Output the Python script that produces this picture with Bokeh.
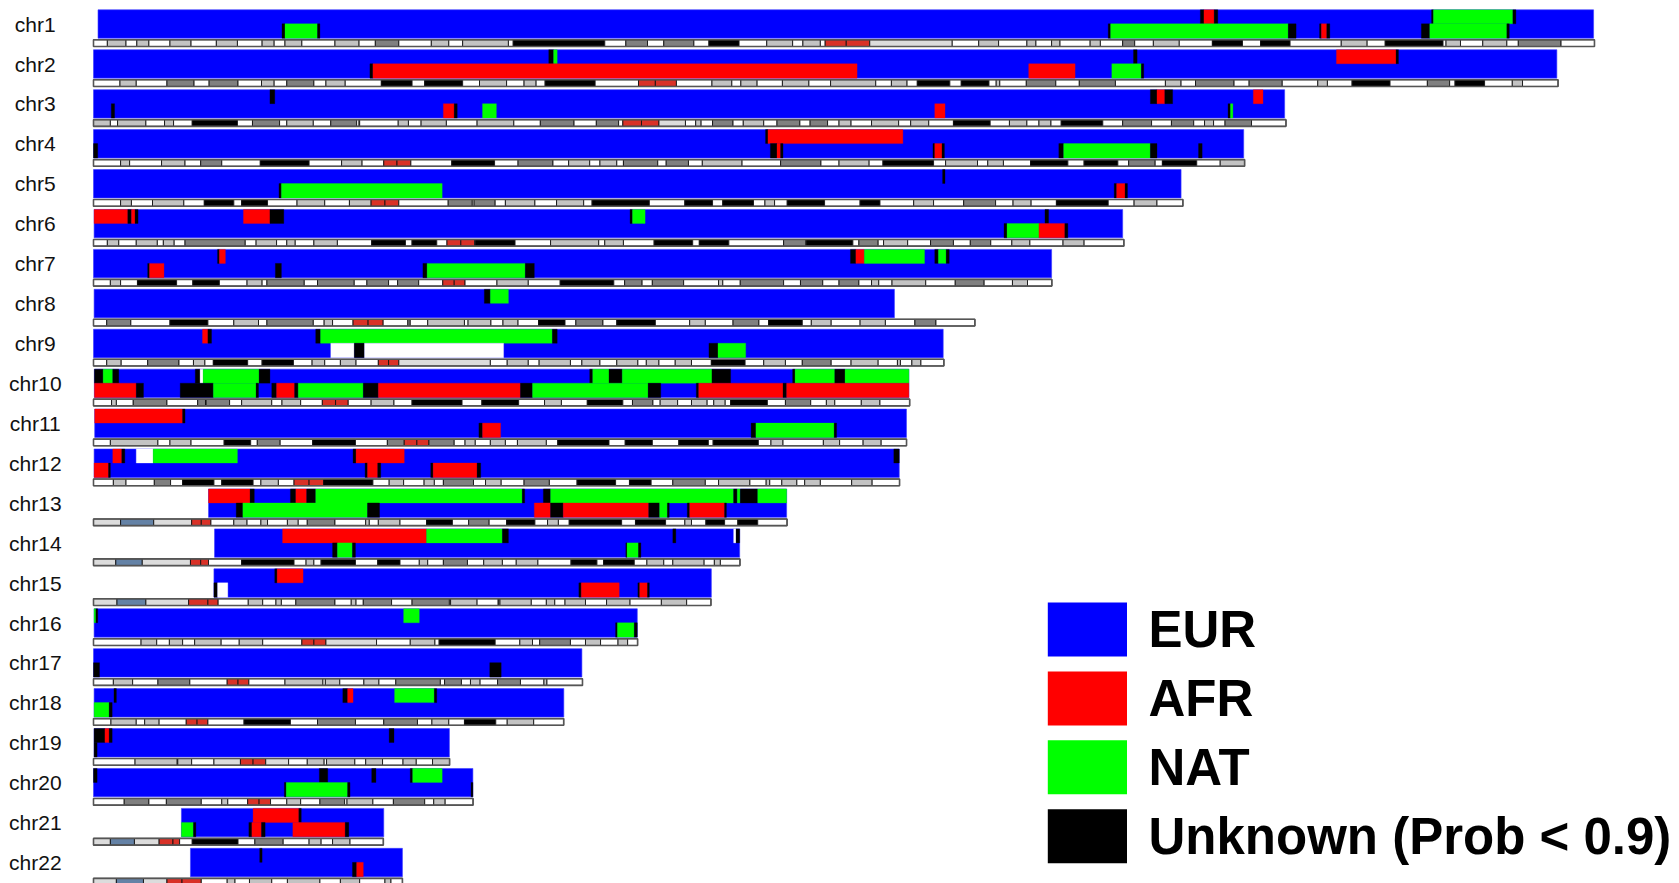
from bokeh.plotting import figure
from bokeh.models import Range1d, ColumnDataSource
from bokeh.embed import file_html
from bokeh.resources import INLINE
from bokeh.core.properties import value

# ---------------------------------------------------------------- data
CHROMS = ["chr1", "chr2", "chr3", "chr4", "chr5", "chr6", "chr7", "chr8", "chr9", "chr10", "chr11",
          "chr12", "chr13", "chr14", "chr15", "chr16", "chr17", "chr18", "chr19", "chr20", "chr21", "chr22"]

# painted extent of the two haplotypes (Mb)
HAP_START_MB = [0.75, 0.0, 0.0, 0.0, 0.0, 0.1, 0.0, 0.1, 0.0, 0.15, 0.2,
                0.1, 19.1, 20.1, 20.0, 0.1, 0.0, 0.1, 0.1, 0.0, 14.6, 16.1]
HAP_END_MB = [249.1, 243.0, 197.8, 191.0, 180.6, 170.9, 159.1, 133.0, 141.1, 135.4, 135.0,
              133.8, 115.1, 107.3, 102.6, 90.3, 81.1, 78.1, 59.1, 63.0, 48.2, 51.3]

# non-EUR tracts, code + start-end (Mb); A=AFR, N=NAT, U=Unknown, W=no call
HAP1_TRACTS = {
    "chr1": "U183.8-184.4 A184.4-186.1 U186.1-186.7 U222.2-222.5 N222.5-235.7 U235.7-236.2",
    "chr2": "U75.6-76.4 N76.4-77.0 U172.7-173.3 A206.4-216.3 U216.3-216.7",
    "chr3": "U29.3-30.1 U175.5-176.6 A176.6-177.9 U177.9-179.2 A192.6-194.2",
    "chr4": "U111.6-112.0 A112.0-134.4",
    "chr5": "U141.0-141.4",
    "chr6": "A0.1-5.7 U5.7-6.3 A6.3-6.9 U6.9-7.4 A24.9-29.3 U29.3-31.6 U89.1-89.5 N89.5-91.6 U158.0-158.6",
    "chr7": "U20.6-20.9 A20.9-21.9 U125.7-126.6 A126.6-128.0 N128.0-138.0 U139.7-140.3 N140.3-141.6 U141.6-142.1",
    "chr8": "U64.9-65.9 N65.9-68.9",
    "chr9": "A18.1-19.0 U19.0-19.6 U36.9-37.7 N37.7-76.2 U76.2-77.0",
    "chr10": "U0.15-1.6 N1.6-3.2 U3.2-4.2 U16.9-17.7 W17.7-18.2 N18.2-27.5 U27.5-29.3 U82.4-82.9 N82.9-85.6 "
             "U85.6-87.8 N87.8-102.7 U102.7-105.8 U116.1-116.5 N116.5-123.1 U123.1-124.8 N124.8-135.4",
    "chr11": "A0.2-14.8 U14.8-15.2",
    "chr12": "A3.2-4.7 U4.7-5.2 W7.1-9.9 N9.9-23.9 U43.1-43.6 A43.6-51.6 U132.9-133.8",
    "chr13": "A19.1-26.0 U26.0-26.7 U32.7-33.6 A33.6-35.4 U35.4-36.9 N36.9-71.2 U71.2-71.6 U74.7-75.9 "
             "N75.9-106.3 U106.3-106.9 N106.9-107.4 U107.4-110.3 N110.3-115.1",
    "chr14": "A31.4-55.3 N55.3-67.9 U67.9-68.9 U96.2-96.7 W106.3-106.7 U106.7-107.3",
    "chr15": "U30.1-30.5 A30.5-34.8",
    "chr16": "N0.1-0.4 U0.4-0.7 N51.5-54.1",
    "chr17": "",
    "chr18": "U3.4-3.8 U41.4-42.2 A42.2-43.1 N50.0-56.6 U56.6-57.0",
    "chr19": "U0.1-1.9 A1.9-2.6 U2.6-3.1 U49.1-49.9",
    "chr20": "U0.0-0.6 U37.5-38.9 U46.2-46.9 U52.6-53.0 N53.0-57.9",
    "chr21": "A26.5-34.1 U34.1-34.5",
    "chr22": "U27.6-28.0",
}
HAP2_TRACTS = {
    "chr1": "U31.3-31.8 N31.8-37.2 U37.2-37.6 U168.5-168.9 N168.9-198.4 U198.4-199.7 U203.6-203.9 "
            "A203.9-204.8 U204.8-205.3 U220.5-221.9 N221.9-234.7 U234.7-235.1",
    "chr2": "U45.9-46.4 A46.4-126.8 A155.3-163.0 N169.1-174.0 U174.0-174.4",
    "chr3": "U2.95-3.5 A58.1-59.9 U59.9-60.4 N64.6-66.9 A139.7-141.4 U188.4-188.8 N188.8-189.2",
    "chr4": "U0.0-0.7 U112.4-113.5 A113.5-114.1 U114.1-114.5 U139.4-139.7 A139.7-140.9 U140.9-141.3 "
            "U160.3-161.1 N161.1-175.5 U175.5-176.6 U183.5-184.1",
    "chr5": "U30.8-31.2 N31.2-57.9 U169.5-169.9 A169.9-171.3 U171.3-171.7",
    "chr6": "U151.2-151.7 N151.7-157.0 A157.0-161.3 U161.3-161.8",
    "chr7": "U9.0-9.3 A9.3-11.7 U30.2-31.2 U54.7-55.4 N55.4-71.7 U71.7-73.2",
    "chr8": "",
    "chr9": "W39.4-43.3 U43.3-45.0 W45.0-68.1 U102.2-103.7 N103.7-108.3",
    "chr10": "A0.15-7.1 U7.1-8.3 U14.4-19.9 N19.9-27.0 U27.0-27.4 U29.6-30.4 A30.4-33.4 U33.4-34.0 "
             "N34.0-44.8 U44.8-47.3 A47.3-70.9 U70.9-72.9 N72.9-92.1 U92.1-94.2 U100.1-100.5 "
             "A100.5-114.5 U114.5-115.1 A115.1-135.4",
    "chr11": "U64.0-64.6 A64.6-67.6 U109.2-110.0 N110.0-123.0 U123.0-123.4",
    "chr12": "A0.1-2.5 U2.5-2.8 U45.1-45.5 A45.5-47.2 U47.2-47.7 U56.0-56.4 A56.4-63.7 U63.7-64.3",
    "chr13": "U23.7-24.8 N24.8-45.5 U45.5-47.5 A73.2-75.9 U75.9-78.0 A78.0-92.2 U92.2-94.0 N94.0-95.3 "
             "U95.3-95.6 U98.6-99.0 A99.0-104.8 U104.8-105.1",
    "chr14": "U39.7-40.5 N40.5-43.0 U43.0-43.5 U88.4-88.6 N88.6-90.5 U90.5-90.9",
    "chr15": "U20.0-20.6 W20.6-22.3 U80.6-81.0 A81.0-87.3 U90.4-90.7 A90.7-92.0 U92.0-92.3",
    "chr16": "U86.7-87.0 N87.0-89.8 U89.8-90.3",
    "chr17": "U0.0-1.0 U65.8-67.7",
    "chr18": "N0.1-2.6 U2.6-3.1",
    "chr19": "U0.1-0.6",
    "chr20": "U31.7-32.0 N32.0-42.2 U42.2-42.6 U62.7-63.0",
    "chr21": "N14.6-16.6 U16.6-17.0 U25.8-26.3 A26.3-27.9 U27.9-28.5 A33.1-41.8 U41.8-42.4",
    "chr22": "U43.0-43.7 A43.7-44.8",
}

# cytobands: band end (Mb) + stain (n=gneg, l=gpos25/50, d=gpos75, k=gpos100, a=acen, v=gvar, s=stalk)
CYTOBANDS = {
    "chr1": "2.3n 5.4l 7.2n 9.2l 12.7n 16.2l 20.4n 23.9l 28n 30l 31.8n 34.6l 40.1n 44.1l 46.8n 50.7d 56.1n "
            "59l 61.3n 68.9l 69.7n 84.9k 88.4n 92d 94.7n 99.7d 102.2n 107.2k 111.8n 116.1l 117.8n 120.7l "
            "121.5n 125a 128.9a 142.6v 147n 150.3l 155n 156.5l 159.1n 160.5l 165.5n 167.2l 170.9n 172.9d "
            "176n 180.3l 185.8n 190.8k 193.8n 198.7k 207.2n 211.5l 214.5n 224.1k 224.6n 227l 230.7n 234.7l "
            "236.6n 243.7d 249.25n",
    "chr2": "4.4n 7.1l 12.2n 16.7d 19.2n 24d 27.9n 30l 32.1n 36.6d 38.6n 41.8l 47.8n 52.9k 55n 61.3k 64.1n "
            "68.6l 71.5n 73.5l 75n 83.3k 90.5n 93.3a 96.8a 102.7n 106l 107.5n 110.2l 114.4n 118.8l 122.4n "
            "129.9l 132.5n 135.1l 136.8n 142.2k 144.1n 148.7k 149.9n 150.5l 154.9n 159.8d 163.7n 169.7d "
            "178n 180.6l 183n 189.4d 191.9n 197.4d 203.3n 204.9l 209n 215.3k 221.5n 225.2d 226.1n 231k "
            "235.6n 237.3l 243.2n",
    "chr3": "2.8l 4n 8.7l 11.8n 13.3l 16.4n 23.9k 26.4n 30.9d 32.1n 36.5l 39.4n 43.7d 44.1n 44.2l 50.6n "
            "52.3l 54.4n 58.6l 63.7n 69.8l 74.2n 79.8d 83.5n 87.2d 87.9n 91a 93.9a 98.3v 100n 100.9l "
            "102.8n 106.2d 107.9n 111.3l 113.5n 117.3d 119n 121.9d 123.8n 125.8l 129.2n 133.7l 135.7n "
            "138.7l 142.8n 148.9k 152.1n 155l 157n 159l 160.7n 167.6k 170.9n 175.7d 179n 182.7d 184.5n "
            "186l 187.9n 192.3d 198.02n",
    "chr4": "4.5n 6l 11.3n 15.2l 17.8n 21.3d 27.7n 35.8k 41.2n 44.6l 48.2n 50.4a 52.7a 59.5n 66.6k 70.5n "
            "76.3d 78.9n 82.4l 84.1n 86.9l 88n 93.7d 95.1n 98.8d 101.1n 107.7l 114.1n 120.8d 123.8n "
            "128.8l 131.1n 139.5k 141.5n 146.8l 148.5n 151.1l 155.6n 161.8k 164.5n 170.1k 171.9n 176.3d "
            "177.5n 183.2k 187.1n 191.15l",
    "chr5": "4.5n 6.3l 9.8n 15l 18.4n 23.3k 24.6n 28.9k 33.8n 38.4l 42.5n 46.1l 48.4a 50.7a 58.9n 62.9d "
            "63.2n 66.7d 68.4n 73.3l 76.9n 81.4l 82.8n 92.3k 98.2n 102.8k 104.5n 109.6k 111.5n 113.1l "
            "115.2n 121.4k 127.3n 130.6k 136.2n 139.5l 144.5n 149.8d 152.7n 155.7l 159.9n 168.5k 172.8n "
            "176.6l 180.9n",
    "chr6": "2.3n 4.2l 7.1n 10.6l 11.6n 13.4l 15.2n 25.2d 27n 30.4l 32.1n 33.5l 36.6n 40.5l 46.2n 51.8k "
            "52.9n 57k 58.7n 61a 63.3a 63.4n 70k 75.9n 83.9l 84.9n 88l 93.1n 99.5k 100.6n 105.5k 114.6n "
            "118.3d 118.4n 126.1k 127.1n 130.3d 131.2n 135.2l 139n 142.8d 145.6n 149d 152.5n 155.5l 161n "
            "164.5l 171.1n",
    "chr7": "2.8n 4.5l 7.3n 13.8k 16.5n 20.9k 25.5n 28l 28.8n 35d 37.2n 43.3d 45.4n 49d 50.5n 54d 58n "
            "59.9a 61.7a 67n 72.2l 77.5n 86.4k 88.2n 91.1d 92.8n 98d 103.8n 104.5l 107.4n 114.6d 117.4n "
            "121.1d 123.8n 127.1d 129.2n 130.4l 132.6n 138.2l 143.1n 147.9d 152.6n 155.1l 159.14n",
    "chr8": "2.2n 6.2d 12.7n 19k 23.3n 27.4l 28.8n 36.5d 38.3n 39.7l 43.1n 45.6a 48.1a 52.2n 52.6d 55.5n "
            "61.6l 62.2n 66l 68n 70.5l 73.9n 78.3k 80.1n 84.6d 86.9n 93.3k 99n 101.6l 106.2n 110.5d "
            "112.1n 117.7k 119.2n 122.5l 127.3n 131.5l 136.4n 139.9d 146.36n",
    "chr9": "2.2n 4.6l 9n 14.2d 16.6n 18.5l 19.9n 25.6k 28n 33.2k 36.3n 38.4l 41n 43.6l 47.3n 49a 50.7a "
            "65.9v 68.7n 72.2l 74n 79.2l 81.1n 84.1l 86.9n 90.4l 91.8n 93.9l 96.6n 99.3l 102.6n 108.2k "
            "111.3n 114.9l 117.7n 122.5d 125.8n 130.3l 133.5n 134l 135.9n 137.4l 141.21n",
    "chr10": "3n 3.8l 6.6n 12.2d 17.3n 18.6d 18.7n 22.6d 24.6n 29.6l 31.3n 34.4l 38n 40.2a 42.3a 46.1n "
             "49.9l 52.9n 61.2k 64.5n 70.6k 74.9n 77.7l 82n 87.9k 89.5n 92.9d 94.1n 97l 99.3n 101.9l "
             "103n 104.9l 105.8n 111.9k 114.9n 119.1d 121.7n 123.1l 127.5n 130.6l 135.53n",
    "chr11": "2.8n 10.7l 12.7n 16.2l 21.7n 26.1k 27.2n 31d 36.4n 43.5k 48.8n 51.6d 53.7a 55.7a 59.9d "
             "61.7n 63.4l 65.9n 68.4l 70.4n 75.2l 77.1n 85.6k 88.3n 92.8k 97.2n 102.1k 102.9n 110.4k "
             "112.5n 114.5l 121.2n 123.9l 127.8n 130.8l 135.01n",
    "chr12": "3.3n 5.4l 10.1n 12.8d 14.8n 20k 21.3n 26.5k 27.8n 30.7l 33.3n 35.8a 38.2a 46.4k 49.1n "
             "51.5l 54.9n 56.6l 58.1n 63.1d 65.1n 67.7l 71.5n 75.7d 80.3n 86.7k 89n 92.6k 96.2n 101.6d "
             "103.8n 109l 111.7n 112.3l 114.3n 116.8l 118.1n 120.7l 125.9n 129.3l 133.85n",
    "chr13": "4.5v 10s 16.3v 17.9a 19.5a 23.3n 25.5l 27.8n 28.9l 32.2n 34l 35.5n 40.1d 45.2n 45.8l "
             "47.3n 50.9l 55.3n 59.6k 62.3n 65.7d 68.6n 73.3k 75.4n 77.2l 79n 87.7k 90n 95k 98.2n 99.3l "
             "101.7n 104.8k 107n 110.3k 115.17n",
    "chr14": "3.7v 8.1s 16.1v 17.8a 19.1a 24.6n 33.3k 35.3n 36.6l 37.8n 43.5k 47.2n 50.9k 54.1n 55.5l "
             "58.1n 62.1d 64.8n 67.9l 70.2n 73.8l 79.3n 83.6k 84.7n 89.8k 91.9n 94.7l 96.2n 101.4l "
             "103.1n 104.1l 107.35n",
    "chr15": "3.9v 8.7s 15.8v 19a 20.7a 25.7n 28.1l 30.3n 31.2l 33.6n 40.1d 42.8n 43.6l 44.8n 49.5d "
             "52.9n 59.1d 59.3n 63.7l 67.2n 67.3l 67.5n 72.7l 75.2n 76.6l 78.3n 81.7l 85.2n 89.1l 94.3n "
             "98.5l 102.53n",
    "chr16": "7.9n 10.5l 12.6n 14.8l 16.8n 21.2l 24.2n 28.1l 34.6n 36.6a 38.6a 47v 52.6n 56.7l 57.4n "
             "66.7k 70.8n 72.9l 74.1n 79.2d 81.7n 84.2l 87.1n 88.7l 90.35n",
    "chr17": "3.3n 6.5l 10.7n 16d 22.2n 24a 25.8a 31.8n 38.1l 38.5n 40.9l 44.9n 47.4l 50.2n 57.6d 58.3n "
             "61.1d 62.6n 64.2l 67.1n 70.9d 74.8n 75.3l 81.2n",
    "chr18": "2.9n 7.1l 8.5n 10.9l 15.4n 17.2a 19a 25n 32.7k 37.2n 43.5d 48.2n 53.8d 56.2n 59l 61.6n "
             "66.8k 68.7n 73.1l 78.08n",
    "chr19": "6.9n 13.9l 14n 16.3l 20n 24.4v 26.5a 28.6a 32.4v 35.5n 38.3l 38.7n 43.4l 45.2n 48l 51.4n "
             "53.6l 56.3n 59.13l",
    "chr20": "5.1n 9.2d 12.1n 17.9d 21.3n 22.3l 25.6n 27.5a 29.4a 32.1n 34.4l 37.6n 41.7d 42.1n 46.4l "
             "49.8n 55d 56.5n 58.4l 63.03n",
    "chr21": "2.8v 6.8s 10.9v 13.2a 14.3a 16.4n 24k 26.8n 31.5d 35.8n 37.8l 39.7n 42.6l 48.13n",
    "chr22": "3.8v 8.3s 12.2v 14.7a 17.9a 22.2n 23.5l 25.9n 29.6l 32.2n 37.6l 41n 44.2l 48.4n 49.4l 51.3n",
}

LEGEND_LABELS = ["EUR", "AFR", "NAT", "Unknown (Prob < 0.9)"]
LEGEND_CODES = ["E", "A", "N", "U"]

# ---------------------------------------------------------------- styles
ANC_COLOR = {"E": "#0000ff", "A": "#ff0000", "N": "#00ff00", "U": "#000000", "W": "#ffffff"}
STAIN_COLOR = {"n": "#ffffff", "l": "#c3c3c3", "d": "#808080", "k": "#000000",
               "a": "#d93127", "v": "#dcdcdc", "s": "#6482a6"}

# ---------------------------------------------------------------- layout (screen px)
W, H = 1679, 883
PAGE = 0
PX_PER_MB = 6.022
ORIGIN_X = 93.0
ROW_PITCH = 39.93
ROW0_Y = 23.3


def sx(px):
    return (px - ORIGIN_X) / PX_PER_MB


def sy(py):
    return -(py - ROW0_Y) / ROW_PITCH


H1_TOP = 14.0 / ROW_PITCH
H2_BOT = -14.4 / ROW_PITCH
ID_TOP = -16.0 / ROW_PITCH
ID_BOT = -22.7 / ROW_PITCH

p = figure(width=W, height=H, x_range=Range1d(sx(PAGE), sx(PAGE + W)),
           y_range=Range1d(sy(PAGE + H), sy(PAGE)), output_backend="svg",
           toolbar_location=None, x_axis_location=None, y_axis_location=None,
           min_border=0, outline_line_color=None, background_fill_color="white",
           border_fill_color="white")
p.xgrid.visible = False
p.ygrid.visible = False


def parse_tracts(s):
    out = []
    for tok in s.split():
        a, b = tok[1:].split("-")
        out.append((tok[0], float(a), float(b)))
    return out


# ---------------------------------------------------------------- ideograms
bl, br, bt, bb, bc = [], [], [], [], []
ol, orr, ot, ob = [], [], [], []
for i, c in enumerate(CHROMS):
    y = -i
    start = 0.0
    for tok in CYTOBANDS[c].split():
        end, st = float(tok[:-1]), tok[-1]
        bl.append(start); br.append(end); bt.append(y + ID_TOP); bb.append(y + ID_BOT)
        bc.append(STAIN_COLOR[st])
        start = end
    ol.append(0.0); orr.append(start); ot.append(y + ID_TOP); ob.append(y + ID_BOT)

p.quad(left="l", right="r", top="t", bottom="b", fill_color="c", line_color="#111111", line_width=0.9,
       source=ColumnDataSource(dict(l=bl, r=br, t=bt, b=bb, c=bc)))
p.quad(left=ol, right=orr, top=ot, bottom=ob, fill_color=None, line_color="#555555", line_width=1.6)

# ---------------------------------------------------------------- haplotypes
# EUR background spanning both haplotypes (no seam), then the other tracts on top
p.quad(left=HAP_START_MB, right=HAP_END_MB,
       top=[-i + H1_TOP for i in range(len(CHROMS))], bottom=[-i + H2_BOT for i in range(len(CHROMS))],
       fill_color=ANC_COLOR["E"], line_color="#3a3aff", line_width=0.6)

hl, hr, ht, hb, hc = [], [], [], [], []
for i, c in enumerate(CHROMS):
    y = -i
    for top, bot, tracts in ((y + H1_TOP, y, HAP1_TRACTS[c]), (y, y + H2_BOT, HAP2_TRACTS[c])):
        for code, a, b in parse_tracts(tracts):
            hl.append(a); hr.append(b); ht.append(top); hb.append(bot); hc.append(ANC_COLOR[code])

p.quad(left="l", right="r", top="t", bottom="b", fill_color="c", line_color="c", line_width=0.3,
       source=ColumnDataSource(dict(l=hl, r=hr, t=ht, b=hb, c=hc)))

# ---------------------------------------------------------------- chromosome labels
p.text(x=[sx(34.8)] * len(CHROMS), y=[-i - 0.3 / ROW_PITCH for i in range(len(CHROMS))], text=CHROMS,
       text_font=value("Liberation Sans"), text_font_size="21px", text_color="#111111",
       text_align="center", text_baseline="middle")

# ---------------------------------------------------------------- legend
LEG_TOP, LEG_PITCH, LEG_SQ = 602.0, 68.9, 54.0
lq_t = [sy(LEG_TOP + k * LEG_PITCH) for k in range(len(LEGEND_LABELS))]
lq_b = [sy(LEG_TOP + LEG_SQ + k * LEG_PITCH) for k in range(len(LEGEND_LABELS))]
p.quad(left=sx(1047.3), right=sx(1126.5), top=lq_t, bottom=lq_b,
       fill_color=[ANC_COLOR[c] for c in LEGEND_CODES], line_color=None)
p.text(x=[sx(1148.0)] * len(LEGEND_LABELS),
       y=[sy(LEG_TOP + LEG_SQ / 2 + k * LEG_PITCH) for k in range(len(LEGEND_LABELS))],
       text=LEGEND_LABELS, text_font=value("Liberation Sans"), text_font_size="51px",
       text_font_style="bold", text_color="black", text_align="left", text_baseline="middle")

open("out.html", "w").write(file_html(p, INLINE))
